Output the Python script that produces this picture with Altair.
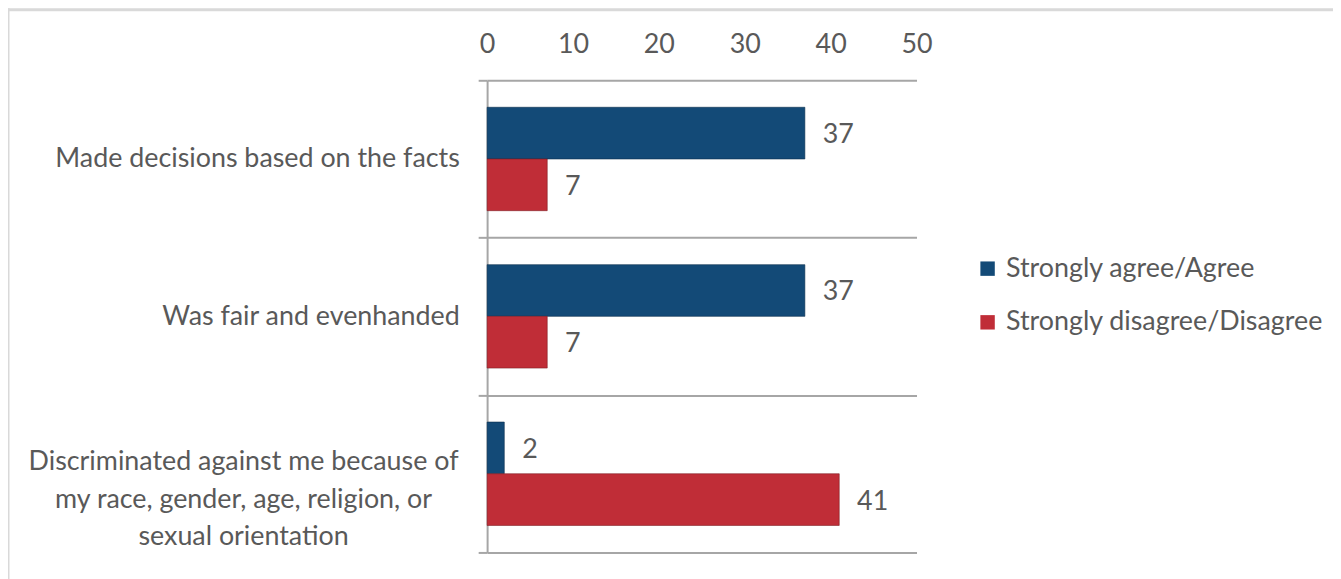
import altair as alt
import pandas as pd

# ---- data ----
categories = [
    "Made decisions based on the facts",
    "Was fair and evenhanded",
    "Discriminated against me because of|my race, gender, age, religion, or|sexual orientation",
]
series = ["Strongly agree/Agree", "Strongly disagree/Disagree"]
agree = [37, 37, 2]
disagree = [7, 7, 41]
x_ticks = [0, 10, 20, 30, 40, 50]
colors = ["#134a77", "#c02d37"]

rows = []
for c, a, d in zip(categories, agree, disagree):
    rows.append({"category": c, "series": series[0], "value": a})
    rows.append({"category": c, "series": series[1], "value": d})
df = pd.DataFrame(rows)
df_multi = pd.DataFrame({"category": [c for c in categories if "|" in c]})

FONT = "Lato"
TXT = "#595959"
GRID = "#a6a6a6"
FS = 27
W, H = 432, 475

xscale = alt.Scale(domain=[0, 50], nice=False)
yscale = alt.Scale(domain=categories, paddingInner=0, paddingOuter=0)
oscale = alt.Scale(domain=series, paddingInner=0, paddingOuter=0.522)

base = alt.Chart(df)

bars = base.mark_bar(strokeWidth=1, strokeOpacity=0.6).encode(
    x=alt.X("value:Q", scale=xscale,
            axis=alt.Axis(orient="top", values=x_ticks, ticks=False, domain=False,
                          grid=False, labelFontSize=FS, labelColor=TXT, labelFont=FONT,
                          labelPadding=22, labelFlush=False, labelOverlap=False, title=None)),
    y=alt.Y("category:N", scale=yscale, sort=categories,
            axis=alt.Axis(title=None,
                          labelExpr="indexof(datum.label, '|') >= 0 ? '' : datum.label",
                          labelAlign="right", labelPadding=19, labelLimit=0,
                          ticks=True, tickSize=9, tickBand="extent", tickColor=GRID, tickWidth=2,
                          grid=True, gridColor=GRID, gridWidth=2,
                          domain=True, domainColor=GRID, domainWidth=2,
                          labelFontSize=FS, labelColor=TXT, labelFont=FONT)),
    yOffset=alt.YOffset("series:N", scale=oscale),
    color=alt.Color("series:N", scale=alt.Scale(domain=series, range=colors),
                    legend=alt.Legend(title=None, orient="none", legendX=490, legendY=176,
                                      symbolType="square", symbolSize=210, symbolStrokeWidth=0,
                                      labelFontSize=FS, labelFont=FONT, labelColor=TXT,
                                      labelLimit=0, rowPadding=26, labelOffset=5, padding=0)),
    stroke=alt.Stroke("series:N", scale=alt.Scale(domain=series, range=["#0b2f4d", "#7e1d24"]),
                      legend=None),
)

values = base.mark_text(align="left", baseline="middle", dx=18, dy=2, fontSize=FS,
                        font=FONT, color=TXT).encode(
    x=alt.X("value:Q", scale=xscale),
    y=alt.Y("category:N", scale=yscale, sort=categories),
    yOffset=alt.YOffset("series:N", scale=oscale),
    text=alt.Text("value:Q"),
)

multi_label = alt.Chart(df_multi).mark_text(
    align="center", baseline="middle", lineBreak="|", lineHeight=38, dy=-12,
    fontSize=FS, font=FONT, color=TXT,
).encode(
    x=alt.value(-245),
    y=alt.Y("category:N", scale=yscale, sort=categories),
    text=alt.Text("category:N"),
)

frame_data = alt.Data(values=[{"k": 0}])
frame_top = alt.Chart(frame_data).mark_rule(color="#d9d9d9", strokeWidth=3).encode(
    x=alt.value(-483.5), x2=alt.value(860), y=alt.value(-71))
frame_left = alt.Chart(frame_data).mark_rule(color="#d9d9d9", strokeWidth=3).encode(
    x=alt.value(-482), y=alt.value(-72.5), y2=alt.value(520))

chart = alt.layer(bars, values, multi_label, frame_top, frame_left).properties(
    width=W, height=H,
    padding={"left": 482, "top": 71, "right": 419, "bottom": 25},
    autosize=alt.AutoSizeParams(type="none"),
    background="white",
).configure_view(strokeWidth=0, stroke="transparent")

chart.save("out.html", embed_options={"renderer": "svg", "actions": False})
